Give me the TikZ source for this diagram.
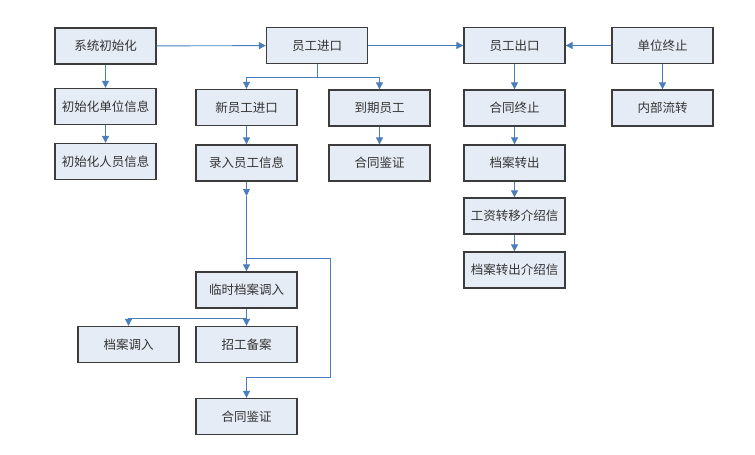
\documentclass[tikz,border=0pt]{standalone}
\usepackage{fontspec}
\setmainfont{Noto Sans CJK SC}
\usetikzlibrary{arrows.meta}
\definecolor{boxfill}{RGB}{230,236,246}
\definecolor{boxline}{RGB}{60,60,60}
\definecolor{conn}{RGB}{74,126,187}
\tikzset{
  box/.style={draw=boxline, line width=1.3pt, fill=boxfill, minimum width=101pt, minimum height=36pt, inner sep=0pt, font=\fontsize{12.5}{14}\selectfont, text=black!80},
  arr/.style={draw=conn, line width=0.9pt, -{Triangle[width=7pt,length=7pt]}},
  ln/.style={draw=conn, line width=0.9pt}
}
\begin{document}
\begin{tikzpicture}[x=1pt,y=-1pt]
\useasboundingbox (0,0) rectangle (755,455);
\node[box] (sys) at (105.5,46) {系统初始化};
\node[box] (in) at (317,45.5) {员工进口};
\node[box] (out) at (514.5,45.5) {员工出口};
\node[box] (unit) at (662.5,45.5) {单位终止};
\node[box] (init1) at (105.5,106.5) {初始化单位信息};
\node[box] (init2) at (105.5,161.5) {初始化人员信息};
\node[box] (new) at (246.5,107.5) {新员工进口};
\node[box] (rec) at (246.5,163) {录入员工信息};
\node[box] (due) at (379.5,108) {到期员工};
\node[box] (ct1) at (379.5,163) {合同鉴证};
\node[box] (term) at (514.5,108) {合同终止};
\node[box] (intl) at (662.5,108) {内部流转};
\node[box] (arch) at (514.5,163) {档案转出};
\node[box] (wage) at (514.5,216) {工资转移介绍信};
\node[box] (archl) at (514.5,270) {档案转出介绍信};
\node[box] (temp) at (246.5,290) {临时档案调入};
\node[box] (archin) at (128.5,344.5) {档案调入};
\node[box] (recruit) at (246.5,344.5) {招工备案};
\node[box] (ct2) at (246.5,416.5) {合同鉴证};
% coordinates
\coordinate (j1) at (317,77);
\coordinate (j2) at (246.5,77);
\coordinate (j3) at (379.5,77);
\coordinate (m1) at (246.5,196);
\coordinate (b1) at (246.5,258);
\coordinate (b2) at (330,258);
\coordinate (b3) at (330,377);
\coordinate (b4) at (246.5,377);
\coordinate (t1) at (246.5,318);
\coordinate (t2) at (128.5,318);
% connectors
\draw[arr] (sys) -- (in);
\draw[arr] (in) -- (out);
\draw[arr] (unit) -- (out);
\draw[arr] (sys) -- (init1);
\draw[arr] (init1) -- (init2);
\draw[ln] (in.south) -- (j1);
\draw[arr] (j1) -- (j2) -- (new.north);
\draw[arr] (j1) -- (j3) -- (due.north);
\draw[arr] (new) -- (rec);
\draw[arr] (due) -- (ct1);
\draw[arr] (rec.south) -- (m1);
\draw[arr] (m1) -- (temp.north);
\draw[arr] (b1) -- (b2) -- (b3) -- (b4) -- (ct2.north);
\draw[arr] (temp.south) -- (recruit.north);
\draw[arr] (t1) -- (t2) -- (archin.north);
\draw[arr] (out) -- (term);
\draw[arr] (term) -- (arch);
\draw[arr] (arch) -- (wage);
\draw[arr] (wage) -- (archl);
\draw[arr] (unit) -- (intl);
\end{tikzpicture}
\end{document}
